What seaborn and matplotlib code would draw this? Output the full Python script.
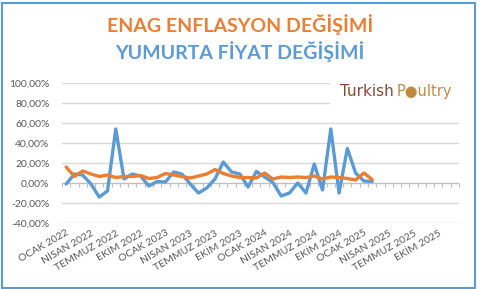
import numpy as np
import pandas as pd
import matplotlib
matplotlib.use("Agg")
import matplotlib.pyplot as plt
from matplotlib.patches import Rectangle
from matplotlib.ticker import FuncFormatter
import seaborn as sns

# ---- data ----
month_names = ["OCAK", "ŞUBAT", "MART", "NİSAN", "MAYIS", "HAZİRAN",
               "TEMMUZ", "AĞUSTOS", "EYLÜL", "EKİM", "KASIM", "ARALIK"]
years = [2022, 2023, 2024, 2025]
categories = [f"{m} {y}" for y in years for m in month_names]

yumurta = [-1, 9, 8, -1, -14, -8, 54, 4, 9, 7, -3, 1.5,
           1, 11, 9, -1, -10, -5, 4, 21, 11, 9, -4, 11.5,
           6, 0.5, -13, -10, 0, -10, 19, -7, 54, -10, 34.5, 10,
           2, 1.5]
enag = [16, 6.5, 12, 9, 6.5, 8, 5.5, 6.5, 6.5, 7.5, 4.5, 5.5,
        9.5, 8, 6.5, 5, 7, 9, 13.5, 9.5, 7, 5.5, 5.5, 5,
        10, 4, 6, 5.5, 6, 5.5, 7, 4, 6, 5.5, 4.5, 3,
        10, 3.5]
yticks = [-40, -20, 0, 20, 40, 60, 80, 100]

BLUE = "#5B9BD5"
ORANGE = "#ED7D31"
GRID = "#D9D9D9"
TXT = "#595959"

df = pd.concat([
    pd.DataFrame({"idx": range(len(yumurta)), "value": yumurta, "series": "YUMURTA"}),
    pd.DataFrame({"idx": range(len(enag)), "value": enag, "series": "ENAG"}),
])

sns.set_theme(style="white")
plt.rcParams["font.family"] = ["Lato", "DejaVu Sans"]

W, H = 481, 289
fig = plt.figure(figsize=(W / 100, H / 100), dpi=100)
fig.patch.set_facecolor("white")
ax = fig.add_axes([62 / W, (H - 223) / H, (459 - 62) / W, (223 - 83) / H])

sns.lineplot(data=df, x="idx", y="value", hue="series",
             palette={"YUMURTA": BLUE, "ENAG": ORANGE},
             hue_order=["YUMURTA", "ENAG"], linewidth=2.4, legend=False, ax=ax)

n = len(categories)
ax.set_xlim(-0.5, n - 0.5)
ax.set_ylim(-40, 100)
ax.set_yticks(yticks)
ax.yaxis.set_major_formatter(FuncFormatter(lambda v, p: f"{v:.2f}".replace(".", ",") + "%"))
ax.tick_params(axis="y", length=0, labelsize=7.5, labelcolor=TXT, pad=9)
for v in yticks:
    if v != 0:
        ax.axhline(v, color=GRID, lw=1.0, zorder=0)
ax.axhline(0, color="#BFBFBF", lw=1.0, zorder=0.5)

lab_pos = list(range(0, n, 3))
ax.set_xticks(lab_pos)
ax.set_xticklabels([categories[i] for i in lab_pos], rotation=30, ha="right",
                   rotation_mode="anchor")
ax.tick_params(axis="x", length=0, labelsize=7.5, labelcolor=TXT, pad=4)
ax.set_xlabel("")
ax.set_ylabel("")
for s in ax.spines.values():
    s.set_visible(False)

# category boundary tick marks on the zero line
zero_frac = (0 - (-40)) / 140
sec = ax.secondary_xaxis(zero_frac)
sec.set_xticks(np.arange(-0.5, n, 1.0))
sec.set_xticklabels([])
sec.tick_params(axis="x", direction="out", length=3, color="#BFBFBF", width=0.8)
for s in sec.spines.values():
    s.set_visible(False)

# logo
logo_bg = Rectangle((330 / W, (H - 110) / H), (460 - 330) / W, 36 / H,
                    transform=fig.transFigure, facecolor="white", edgecolor="none", zorder=5)
fig.patches.append(logo_bg)
ly = (H - 91) / H
fig.text(340 / W, ly, "Turkish", color="#8B4A35", fontsize=11,
         family=["DejaVu Sans"], va="center", ha="left", zorder=6)
fig.text(397 / W, ly, "P●ultry", color="#C08A3E", fontsize=10.5,
         family=["DejaVu Sans"], va="center", ha="left", zorder=6)

# titles
fig.text(240 / W, (H - 25) / H, "ENAG ENFLASYON DEĞİŞİMİ", color=ORANGE,
         fontsize=14, fontweight="bold", ha="center", va="center")
fig.text(240 / W, (H - 52) / H, "YUMURTA FİYAT DEĞİŞİMİ", color=BLUE,
         fontsize=14, fontweight="bold", ha="center", va="center")

# outer frame
fig.patches.append(Rectangle((1.5 / W, 1.5 / H), (W - 7) / W, (H - 4) / H,
                             transform=fig.transFigure, fill=False,
                             edgecolor=BLUE, linewidth=1.5, zorder=10))

fig.savefig("out.png", dpi=100, facecolor="white")
